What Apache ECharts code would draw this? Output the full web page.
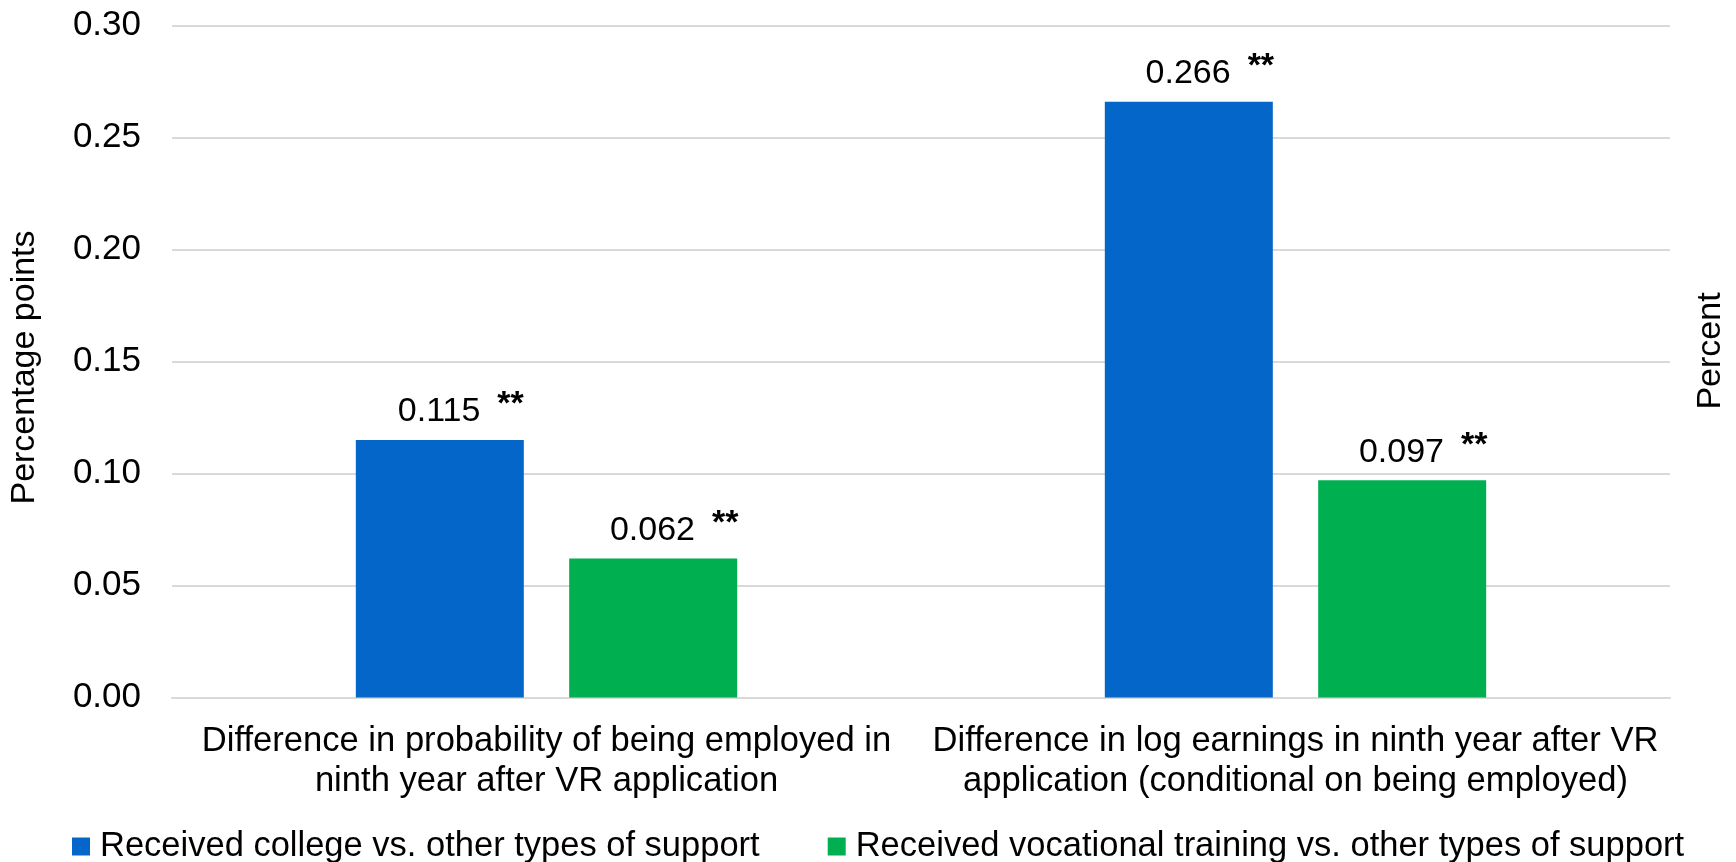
<!DOCTYPE html>
<html>
<head>
<meta charset="utf-8">
<script src="https://cdn.jsdelivr.net/npm/echarts@6/dist/echarts.min.js"></script>
<style>
html,body{margin:0;padding:0;background:#fff;}
#chart{width:1736px;height:862px;}
</style>
</head>
<body>
<div id="chart"></div>
<script>
const categories = [
  'Difference in probability of being employed in\nninth year after VR application',
  'Difference in log earnings in ninth year after VR\napplication (conditional on being employed)'
];
const seriesNames = [
  'Received college vs. other types of support',
  'Received vocational training vs. other types of support'
];
const collegeValues = [0.115, 0.266];
const vocationalValues = [0.062, 0.097];
const collegeSig = ['**', '**'];
const vocationalSig = ['**', '**'];
const yTicks = { min: 0, max: 0.30, interval: 0.05 };

const FONT = '"Liberation Sans", Arial, sans-serif';
const sigs = [collegeSig, vocationalSig];

const labelCfg = {
  show: true,
  position: 'top',
  distance: 11,
  offset: [21, 0],
  formatter: function (p) {
    return '{v|' + p.value.toFixed(3) + '}{s|' + sigs[p.seriesIndex][p.dataIndex] + '}';
  },
  rich: {
    v: { fontSize: 34, fontFamily: FONT, color: '#000', verticalAlign: 'bottom' },
    s: { fontSize: 34, fontFamily: FONT, fontWeight: 'bold', color: '#000', verticalAlign: 'bottom', padding: [0, 0, 7, 17] }
  }
};

const chart = echarts.init(document.getElementById('chart'), null, { renderer: 'canvas' });
chart.setOption({
  animation: false,
  backgroundColor: '#fff',
  textStyle: { fontFamily: FONT },
  grid: { left: 172, right: 64, top: 25.5, bottom: 164.5, containLabel: false },
  legend: {
    left: 67,
    top: 824,
    icon: 'rect',
    itemWidth: 18,
    itemHeight: 18,
    itemGap: 68,
    textStyle: { fontSize: 34.5, fontFamily: FONT, color: '#000', padding: [0, 0, 0, 5] },
    data: seriesNames
  },
  xAxis: {
    type: 'category',
    data: categories,
    axisLine: { show: true, lineStyle: { color: '#d9d9d9', width: 2 } },
    axisTick: { show: false },
    axisLabel: { fontSize: 34.6, fontFamily: FONT, color: '#000', lineHeight: 40, margin: 24, interval: 0 }
  },
  yAxis: [
    {
      type: 'value',
      min: yTicks.min,
      max: yTicks.max,
      interval: yTicks.interval,
      name: 'Percentage points',
      nameLocation: 'middle',
      nameGap: 130,
      nameRotate: 90,
      nameTextStyle: { fontSize: 34, fontFamily: FONT, color: '#000', padding: [0, 12, 0, 0] },
      axisLine: { show: false },
      axisTick: { show: false },
      axisLabel: { fontSize: 35, fontFamily: FONT, color: '#000', margin: 31, formatter: v => v.toFixed(2) },
      splitLine: { show: true, lineStyle: { color: '#d9d9d9', width: 2 } }
    },
    {
      type: 'value',
      position: 'right',
      min: yTicks.min,
      max: yTicks.max,
      interval: yTicks.interval,
      name: 'Percent',
      nameLocation: 'middle',
      nameGap: 24,
      nameRotate: 90,
      nameTextStyle: { fontSize: 34, fontFamily: FONT, color: '#000', padding: [0, 0, 0, 21] },
      axisLine: { show: false },
      axisTick: { show: false },
      axisLabel: { show: false },
      splitLine: { show: false }
    }
  ],
  series: [
    {
      name: seriesNames[0],
      type: 'bar',
      data: collegeValues,
      barWidth: 168,
      barGap: '27%',
      itemStyle: { color: '#0566CA' },
      label: labelCfg
    },
    {
      name: seriesNames[1],
      type: 'bar',
      data: vocationalValues,
      barWidth: 168,
      barGap: '27%',
      itemStyle: { color: '#00AF50' },
      label: labelCfg
    }
  ]
});
</script>
</body>
</html>
